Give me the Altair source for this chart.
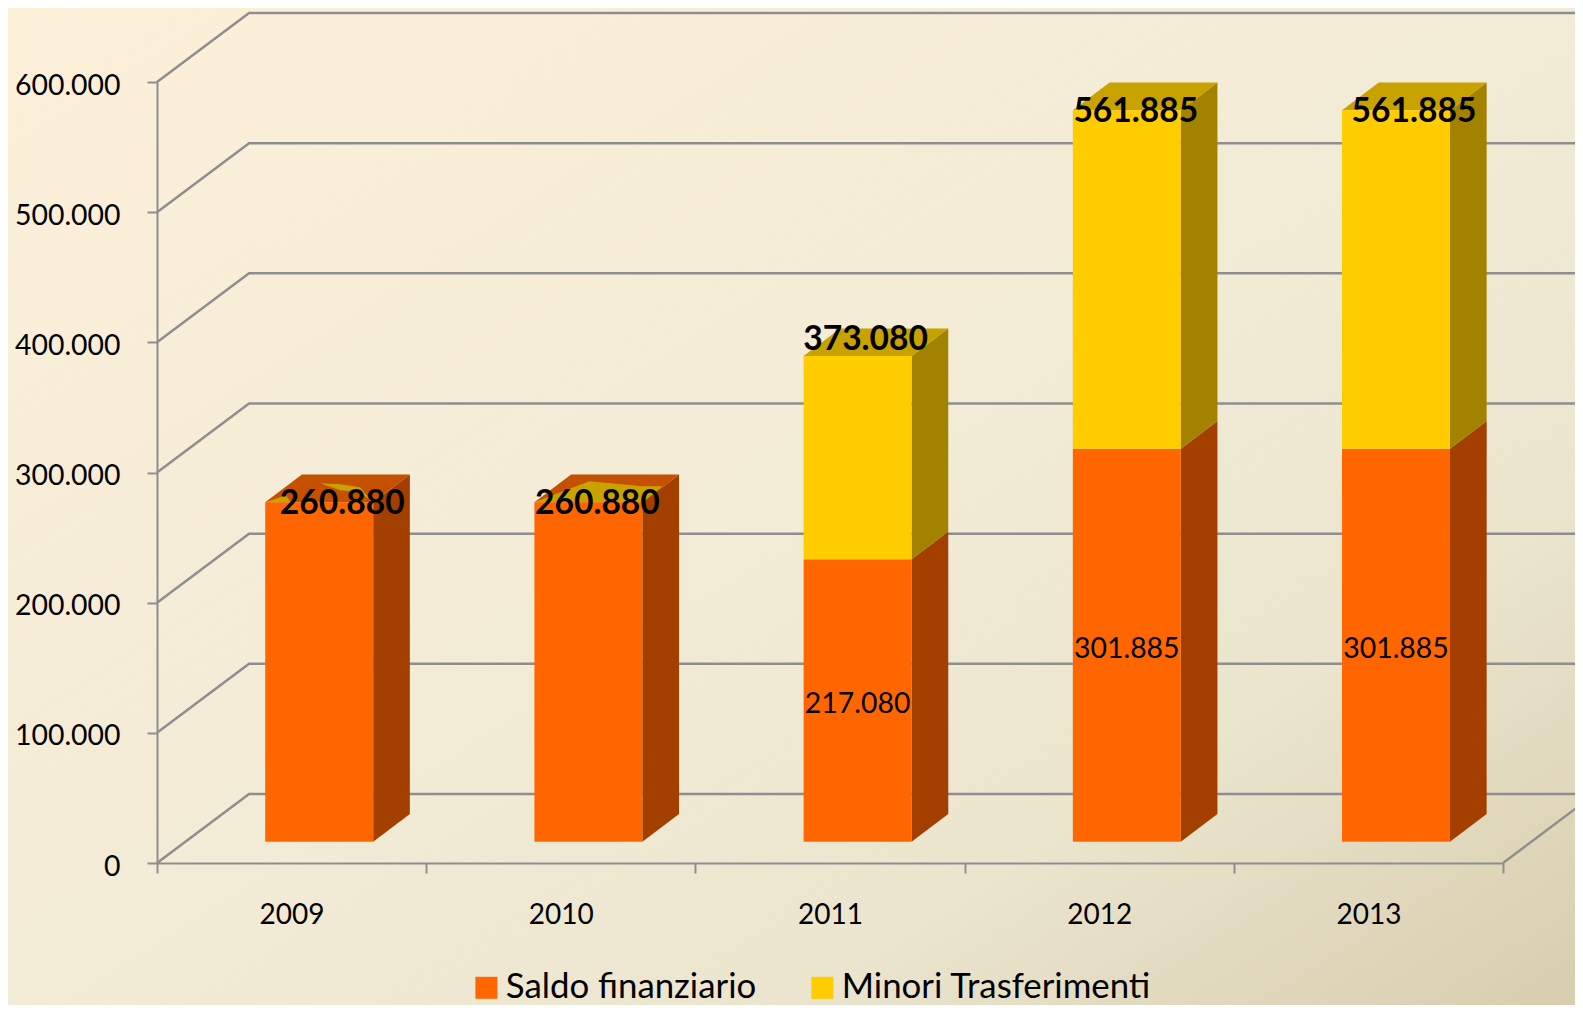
import altair as alt
import pandas as pd

# ---- values
YEARS = ["2009", "2010", "2011", "2012", "2013"]
SALDO = [260880, 260880, 217080, 301885, 301885]
MINORI = [0, 0, 156000, 260005, 260005]
TOTALS = [260880, 260880, 373080, 561885, 561885]
SERIES = ["Saldo finanziario", "Minori Trasferimenti"]
Y_TICKS = [0, 100000, 200000, 300000, 400000, 500000, 600000]

# ---- geometry of the pseudo-3D frame (category units / value units)
WALL_DX, WALL_DY = 0.342, 53000
BAR_LEFT, BAR_W = 0.402, 0.401
BAR_DX, BAR_DY = 0.1363, 21280
BASE = 16360
N = len(YEARS)

ORANGE, ORANGE_SIDE, ORANGE_TOP = "#FF6600", "#A34000", "#C45000"
YELLOW, YELLOW_SIDE, YELLOW_TOP = "#FFCC00", "#A38200", "#C8A300"
GRID = "#8E8E8E"
FONT = "Lato"

XS = alt.Scale(domain=[0, N], nice=False, zero=False)
YS = alt.Scale(domain=[0, 600000], nice=False, zero=False)
X = alt.X("x:Q", scale=XS, stack=False,
          axis=alt.Axis(values=list(range(N + 1)), title=None, grid=False, domainColor=GRID,
                        domainWidth=2, tickColor=GRID, tickWidth=2, tickSize=10, labelFont=FONT,
                        labelFontSize=28, labelColor="black", labelPadding=28, labelOffset=134.6,
                        labelOverlap=False, labelFlush=False, zindex=1,
                        labelExpr="datum.value < 5 ? toString(2009 + datum.value) : ''"))
Y = alt.Y("y:Q", scale=YS, stack=False,
          axis=alt.Axis(values=Y_TICKS, title=None, grid=False, domainColor=GRID, domainWidth=2,
                        tickColor=GRID, tickWidth=2, tickSize=10, labelFont=FONT, labelFontSize=28.4,
                        labelColor="black", labelPadding=27, labelOffset=3, labelOverlap=False, zindex=1,
                        labelExpr="replace(format(datum.value, ','), ',', '.')"))
Y2 = alt.Y2("y2:Q")

# ---- tables
rows_grid = []
for v in Y_TICKS:
    rows_grid += [{"g": v, "x": 0, "y": v}, {"g": v, "x": WALL_DX, "y": v + WALL_DY},
                  {"g": v, "x": N + WALL_DX, "y": v + WALL_DY}]
rows_grid += [{"g": "floor", "x": N, "y": 0}, {"g": "floor", "x": N + WALL_DX, "y": WALL_DY}]

fronts, sides, tops = [], [], []
for i, year in enumerate(YEARS):
    xl, xr = i + BAR_LEFT, i + BAR_LEFT + BAR_W
    lo = BASE
    for name, val in zip(SERIES, (SALDO[i], MINORI[i])):
        if val == 0:
            continue
        hi = lo + val
        fronts.append({"year": year, "series": name, "x": xl, "x2": xr, "y": lo, "y2": hi,
                       "mid": (lo + hi) / 2, "xc": (xl + xr) / 2, "val": val})
        sides += [{"year": year, "series": name, "x": xr, "y": lo, "y2": hi},
                  {"year": year, "series": name, "x": xr + BAR_DX, "y": lo + BAR_DY, "y2": hi + BAR_DY}]
        lo = hi
    last = SERIES[1] if MINORI[i] else SERIES[0]
    tops += [{"year": year, "series": last, "x": xl, "y": lo, "y2": lo},
             {"year": year, "series": last, "x": xl + BAR_DX, "y": lo, "y2": lo + BAR_DY},
             {"year": year, "series": last, "x": xr, "y": lo, "y2": lo + BAR_DY},
             {"year": year, "series": last, "x": xr + BAR_DX, "y": lo + BAR_DY, "y2": lo + BAR_DY}]

# yellow patches showing through the orange top of the 2009 and 2010 bars
# (year index, patch, [(x along the top in px, lower edge px, upper edge px)])
PATCHES = [
    (0, "a", [(0, 0, 0), (21, 0, 7), (25, 0, 0)]),
    (0, "b", [(55, 19, 19), (75, 12, 18), (95, 10, 15), (107, 0, 0)]),
    (1, "c", [(0, 0, 0), (55, 0, 21), (108, 0, 16), (128, 16, 16)]),
]
PX_X, PX_Y = 1 / 269.2, 1 / 0.0013017
patch_rows = []
for i, p, pts in PATCHES:
    top = BASE + SALDO[i]
    for px, lo_px, up_px in pts:
        patch_rows.append({"year": p, "series": SERIES[1], "x": i + BAR_LEFT + px * PX_X,
                           "y": top + lo_px * PX_Y, "y2": top + up_px * PX_Y})

df_grid, df_front = pd.DataFrame(rows_grid), pd.DataFrame(fronts)
df_side, df_top = pd.DataFrame(sides), pd.DataFrame(tops)
df_patch = pd.DataFrame(patch_rows)
one = pd.DataFrame({"x": [0], "y": [0]})

bg = alt.Chart(one).mark_rect(
    color=alt.LinearGradient(gradient="linear", x1=0, y1=0, x2=1, y2=1, stops=[
        alt.GradientStop(offset=0, color="#FDF0D9"),
        alt.GradientStop(offset=0.5, color="#F2EBD6"),
        alt.GradientStop(offset=0.75, color="#EBE5CE"),
        alt.GradientStop(offset=1, color="#D8CDAE")])
).encode(x=alt.value(-149), x2=alt.value(1418), y=alt.value(-74), y2=alt.value(923))

grid = alt.Chart(df_grid).mark_line(color=GRID, strokeWidth=2.5, clip=False).encode(
    x=X, y=Y, detail="g:N", order="x:Q")


def faces(df, series, color):
    return alt.Chart(df[df.series == series]).mark_area(color=color, orient="vertical").encode(
        x=X, y=Y, y2=Y2, detail="year:N")


front = alt.Chart(df_front).mark_rect().encode(
    x=X, x2=alt.X2("x2:Q"), y=Y, y2=Y2,
    color=alt.Color("series:N", scale=alt.Scale(domain=SERIES, range=[ORANGE, YELLOW]),
                    legend=alt.Legend(orient="none", legendX=312, legendY=888, direction="horizontal",
                                      title=None, labelFont=FONT, labelFontSize=34.8, labelColor="black",
                                      symbolType="M-1,-1H1V1H-1Z", symbolSize=484,
                                      symbolStrokeWidth=0, labelOffset=2, columnPadding=48,
                                      labelLimit=500, symbolOpacity=1)))

small = alt.Chart(df_front[(df_front.series == SERIES[0]) & (df_front.year >= "2011")]).transform_calculate(
    t="replace(format(datum.val, ','), ',', '.')"
).mark_text(font=FONT, fontSize=28.4, color="black", dy=4).encode(
    x=alt.X("xc:Q", scale=XS), y=alt.Y("mid:Q", scale=YS), text="t:N")

# per-label nudges (px) of the bold totals
NUDGES = [(23, 2), (9, 2), (8, -16), (9, 2), (18, 2)]
bold = []
for i, (year, total) in enumerate(zip(YEARS, TOTALS)):
    d = pd.DataFrame({"x": [i + BAR_LEFT + BAR_W / 2], "y": [BASE + total], "t": [f"{total:,}".replace(",", ".")]})
    bold.append(alt.Chart(d).mark_text(font=FONT, fontSize=33.6, fontWeight="bold", color="black",
                                       dx=NUDGES[i][0], dy=NUDGES[i][1]).encode(x=X, y=Y, text="t:N"))

layers = [bg, grid,
          faces(df_side, SERIES[0], ORANGE_SIDE), faces(df_side, SERIES[1], YELLOW_SIDE),
          faces(df_top, SERIES[0], ORANGE_TOP), faces(df_top, SERIES[1], YELLOW_TOP),
          faces(df_patch, SERIES[1], YELLOW_TOP),
          front, small] + bold

chart = alt.layer(*layers).properties(
    width=1346, height=781,
    padding={"left": 149, "top": 74, "right": 72, "bottom": 142},
    autosize=alt.AutoSizeParams(type="none"),
).configure_view(stroke=None)

chart.save("out.html", embed_options={"renderer": "svg", "actions": False})
